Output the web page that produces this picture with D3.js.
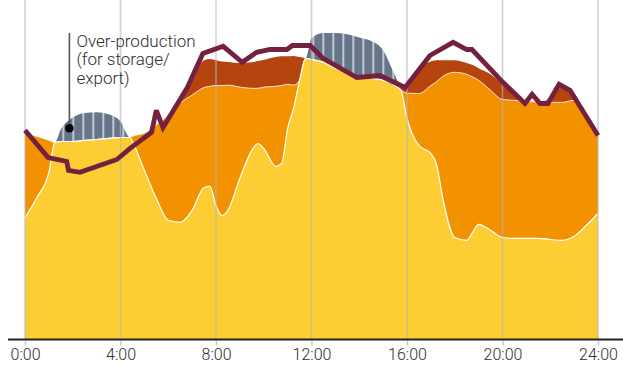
<!DOCTYPE html>
<html>
<head>
<meta charset="utf-8">
<script src="https://cdn.jsdelivr.net/npm/d3@7"></script>
<style>
  html, body { margin: 0; padding: 0; background: #fff; }
  svg { display: block; }
</style>
</head>
<body>
<svg id="chart" width="623" height="365"></svg>
<script>
// ---- DATA ----
const hours = [0,0.5,1,1.25,1.5,2,2.5,3,3.5,4,4.4,4.5,5,5.5,6,6.5,7,7.5,7.75,8,8.25,8.5,9,9.5,9.75,10,10.5,10.75,11,11.25,11.5,11.75,12,12.5,13,13.5,14,14.5,15,15.5,15.75,16,16.5,17,17.25,17.5,18,18.5,18.75,19,19.5,20,20.5,21,21.5,22,22.5,23,23.5,24];

const yellowLayer = [30.5,35.5,41.8,49.3,49.5,49.5,49.8,50,50.3,50.5,50.5,49.5,42.3,35.3,29.8,29.3,32.3,38,38.3,33.5,31,32.3,40.3,47.3,49,47.8,43.3,44,52.8,57.8,64.8,70.3,70,69.3,67.8,66.8,65.5,65.3,64.8,63.5,62.3,55.3,48.5,46.5,43.5,35.3,25.5,24.8,26.8,28.8,27.3,25.5,25.3,25.3,25.3,25,24.8,25.8,28.5,31.5];

const orangeLayer = [21,15.3,8,0,0,0,0,0,0,0,0,1.3,9.3,18.3,26.3,29.8,28.8,25,25,30,32.5,31.3,22.8,15.5,13.8,15.3,20,19.5,11,5.8,0,0,0,0,0,0,0,0,0,0,0,6.3,13,17,21,30.5,41.3,41.5,38.8,36,35,34.5,34.5,34.3,34,34.3,34.5,34,27,19.5];

const darkLayer = [0,0,0,0,0,0,0,0,0,0,0,0,0,0,0,0,3.3,6.8,6.8,6.3,6,5.8,6,6.5,6.8,6.8,7.3,7.3,7,7.3,5.8,0,0,0,0,0,0,0,0,0,1,1.5,6.3,6,5.3,4,3,2.8,3,3,4,3.8,1.5,0,0,1,3.8,0.8,0,0];

const overProduction = [0,0,0,0,3,6,6.8,6.8,6,4,0,0,0,0,0,0,0,0,0,0,0,0,0,0,0,0,0,0,0,0,0,0,5.3,7.3,8.8,9.5,10,9.3,7.5,2.5,0,0,0,0,0,0,0,0,0,0,0,0,0,0,0,0,0,0,0,0];

const demandHours = [0,0.97,1.75,1.82,2.3,3.85,4.4,5.3,5.5,5.78,6.8,7.45,8.3,9.1,9.7,10.26,10.97,11.2,11.94,12.48,13.9,14.87,15.92,16.96,17.93,18.5,18.72,20.02,20.94,21.24,21.57,21.9,22.37,22.83,24];
const demand = [52.3,45.5,44.5,42.3,41.8,45,47.8,51.8,57.3,53,63,71.5,73.3,69.3,71.8,72.5,72.5,73.5,73.5,70.3,65.5,66,63,71,74.3,72.5,72.5,64.3,59,61.3,59,59,63.8,62.3,51];

const tickHours = [0,4,8,12,16,20,24];
const tickLabels = ["0:00","4:00","8:00","12:00","16:00","20:00","24:00"];

const annotationLines = ["Over-production", "(for storage/", "export)"];
const annotationAt = {hour: 1.86, value: 52.8};

// ---- STYLE ----
const colors = {
  yellow: "#FDCE34",
  orange: "#F29200",
  dark: "#B5440F",
  hatch: "#667589",
  demand: "#74203F"
};

const svg = d3.select("#chart");
const W = 623, H = 365;
const baseY = 339.5;

const x = d3.scaleLinear().domain([0, 24]).range([25, 598]);
const y = d3.scaleLinear().domain([0, 80]).range([baseY, baseY - 320]);

// stacked table
const keys = ["yellow", "orange", "dark", "hatch"];
const table = hours.map((h, i) => ({
  hour: h,
  yellow: yellowLayer[i],
  orange: orangeLayer[i],
  dark: darkLayer[i],
  hatch: overProduction[i]
}));
const stacked = d3.stack().keys(keys)(table);

// hatch pattern
const defs = svg.append("defs");
const pat = defs.append("pattern")
  .attr("id", "hatch")
  .attr("patternUnits", "userSpaceOnUse")
  .attr("x", 2.5).attr("y", 0)
  .attr("width", 10).attr("height", 10);
pat.append("rect").attr("width", 10).attr("height", 10).attr("fill", colors.hatch);
pat.append("line").attr("x1", 0.75).attr("x2", 0.75).attr("y1", 0).attr("y2", 10)
  .attr("stroke", "#fff").attr("stroke-width", 1.4).attr("stroke-opacity", 0.85);

const area = d3.area()
  .x(d => x(d.data.hour))
  .y0(d => y(d[0]))
  .y1(d => y(d[1]))
  .curve(d3.curveMonotoneX);

const topLine = d3.line()
  .x(d => x(d.data.hour))
  .y(d => y(d[1]))
  .curve(d3.curveMonotoneX);

const fills = {yellow: colors.yellow, orange: colors.orange, dark: colors.dark, hatch: "url(#hatch)"};

svg.append("g").selectAll("path")
  .data(stacked)
  .join("path")
  .attr("d", area)
  .attr("fill", d => fills[d.key]);

// white separators on top of yellow and orange
svg.append("g").selectAll("path")
  .data(stacked.filter(s => s.key === "yellow" || s.key === "orange"))
  .join("path")
  .attr("d", topLine)
  .attr("fill", "none")
  .attr("stroke", "#fff")
  .attr("stroke-opacity", d => d.key === "yellow" ? 1 : 0.75)
  .attr("stroke-width", d => d.key === "yellow" ? 1.2 : 1);

// gridlines
svg.append("g").selectAll("line")
  .data(tickHours)
  .join("line")
  .attr("x1", d => x(d)).attr("x2", d => x(d))
  .attr("y1", 0).attr("y2", baseY)
  .attr("stroke", "#b5b5b5")
  .attr("stroke-opacity", 0.65)
  .attr("stroke-width", 1.5);

// axis
const axis = d3.axisBottom(x)
  .tickValues(tickHours)
  .tickFormat((d, i) => tickLabels[i])
  .tickSize(5);

const gAxis = svg.append("g")
  .attr("transform", `translate(0,${baseY + 1})`)
  .call(axis);
gAxis.select(".domain").remove();
gAxis.selectAll(".tick line").attr("stroke", "#c8c8c8").attr("stroke-width", 1.5);
gAxis.selectAll(".tick text")
  .attr("y", 19.5)
  .attr("dy", null)
  .attr("fill", "#2e2e2e")
  .attr("font-family", "Roboto, 'Noto Sans', sans-serif")
  .attr("font-weight", 300)
  .attr("font-size", 16);

svg.append("line")
  .attr("x1", 8).attr("x2", W)
  .attr("y1", baseY).attr("y2", baseY)
  .attr("stroke", "#222")
  .attr("stroke-width", 2);

// demand line
const demandLine = d3.line()
  .x((d, i) => x(demandHours[i]))
  .y(d => y(d))
  .curve(d3.curveLinear);

svg.append("path")
  .datum(demand)
  .attr("d", demandLine)
  .attr("fill", "none")
  .attr("stroke", colors.demand)
  .attr("stroke-width", 4.8)
  .attr("stroke-linejoin", "miter")
  .attr("stroke-miterlimit", 3);

// annotation
const ax = x(annotationAt.hour), ay = y(annotationAt.value);
svg.append("line")
  .attr("x1", ax).attr("x2", ax)
  .attr("y1", 33).attr("y2", ay)
  .attr("stroke", "#555").attr("stroke-width", 1.6);
svg.append("circle")
  .attr("cx", ax).attr("cy", ay).attr("r", 4.3)
  .attr("fill", "#000");
svg.append("text")
  .attr("x", ax + 7)
  .attr("y", 46.5)
  .attr("font-family", "Roboto, 'Noto Sans', sans-serif")
  .attr("font-weight", 300)
  .attr("font-size", 17)
  .attr("fill", "#2e2e2e")
  .selectAll("tspan")
  .data(annotationLines)
  .join("tspan")
  .attr("x", ax + 7)
  .attr("dy", (d, i) => i === 0 ? 0 : 18.5)
  .text(d => d);
</script>
</body>
</html>
